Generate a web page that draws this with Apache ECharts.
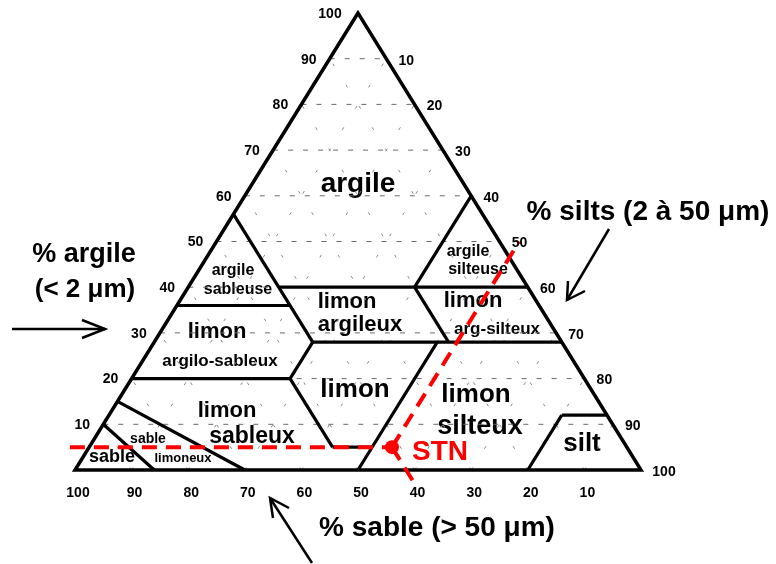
<!DOCTYPE html>
<html>
<head>
<meta charset="utf-8">
<script src="https://cdn.jsdelivr.net/npm/echarts@6/dist/echarts.min.js"></script>
<style>
html, body { margin: 0; padding: 0; background: #fff; }
#main { width: 776px; height: 564px; }
</style>
</head>
<body>
<div id="main"></div>
<script>
// ternary points are [clay, silt], sand = 100 - clay - silt
var ticks = [10, 20, 30, 40, 50, 60, 70, 80, 90, 100];
var gridLevels = [10, 20, 30, 40, 50, 60, 70, 80, 90];

var outline = [[100, 0], [0, 0], [0, 100]];

// class boundaries
var boundaries = [
    [[56, 0], [28, 28]],
    [[36, 0], [36, 20]],
    [[40, 16], [40, 60]],
    [[60, 40], [40, 40]],
    [[40, 40], [28, 52]],
    [[28, 28], [28, 72]],
    [[28, 28], [20, 28]],
    [[20, 0], [20, 28]],
    [[20, 28], [5, 43]],
    [[5, 43], [5, 50]],
    [[28, 50], [0, 50]],
    [[15, 0], [0, 30]],
    [[10, 0], [0, 14]],
    [[12, 80], [0, 80]],
    [[12, 80], [12, 88]]
];

// sample STN and its reading lines (they run a bit past the triangle)
var stn = [5, 53.5];
var stnLines = [
    [[5, -3.4], [5, 53.5]],
    [[5, 53.5], [50, 53.5]],
    [[5, 53.5], [-3, 61.5]]
];

var FONT = '"Liberation Sans", Arial, sans-serif';

function toXY(p) { return [p[1] + p[0] / 2, p[0]]; }

function segs(list) {
    return list.map(function (s) {
        var a = toXY(s[0]), b = toXY(s[1]);
        return [a[0], a[1], b[0], b[1]];
    });
}

var clayGrid = gridLevels.map(function (v) { return [[v, 0], [v, 100 - v]]; });
var diagGrid = [];
gridLevels.forEach(function (v) {
    diagGrid.push([[0, v], [100 - v, v]]);
    diagGrid.push([[0, 100 - v], [100 - v, 0]]);
});

function lineRender(stroke, width, dash) {
    return function (params, api) {
        var a = api.coord([api.value(0), api.value(1)]);
        var b = api.coord([api.value(2), api.value(3)]);
        return {
            type: 'line',
            shape: { x1: a[0], y1: a[1], x2: b[0], y2: b[1] },
            style: { stroke: stroke, lineWidth: width, lineDash: dash, lineCap: 'butt' }
        };
    };
}

function lineSeries(list, stroke, width, dash, z) {
    return {
        type: 'custom', silent: true, clip: false, z: z,
        renderItem: lineRender(stroke, width, dash),
        encode: { x: [0, 2], y: [1, 3] },
        data: segs(list)
    };
}

function tickSeries(pointOf, dxOf, dy) {
    return {
        type: 'custom', silent: true, clip: false, z: 5,
        renderItem: function (params, api) {
            var p = api.coord([api.value(0), api.value(1)]);
            var v = ticks[params.dataIndex];
            return {
                type: 'text', x: p[0] + dxOf(v), y: p[1] + dy,
                style: {
                    text: String(v), font: 'bold 14px ' + FONT, fill: '#000',
                    align: 'center', verticalAlign: 'middle',
                    textAlign: 'center', textVerticalAlign: 'middle'
                }
            };
        },
        encode: { x: 0, y: 1 },
        data: ticks.map(function (v) { return toXY(pointOf(v)); })
    };
}

function txt(x, y, s, size, color) {
    return {
        type: 'text', x: x, y: y, silent: true,
        style: {
            text: s, font: 'bold ' + size + 'px ' + FONT, fill: color || '#000',
            align: 'center', verticalAlign: 'middle',
            textAlign: 'center', textVerticalAlign: 'middle'
        }
    };
}

function arrow(x1, y1, x2, y2, h1, h2) {
    var st = { stroke: '#000', lineWidth: 2.5, fill: null };
    return [
        { type: 'line', silent: true, shape: { x1: x1, y1: y1, x2: x2, y2: y2 }, style: st },
        { type: 'polyline', silent: true, shape: { points: [h1, [x2, y2], h2] }, style: st }
    ];
}

var labels = [
    txt(358, 184, 'argile', 28),
    txt(233, 271, 'argile', 16), txt(238, 290, 'sableuse', 16),
    txt(468, 252, 'argile', 16), txt(478, 270, 'silteuse', 16),
    txt(347, 302, 'limon', 22), txt(360, 325, 'argileux', 22),
    txt(473, 301, 'limon', 22), txt(497, 329, 'arg-silteux', 17),
    txt(217, 332, 'limon', 22), txt(220, 361, 'argilo-sableux', 17),
    txt(355, 390, 'limon', 26),
    txt(476, 395, 'limon', 26), txt(480, 427, 'silteux', 27),
    txt(582, 444, 'silt', 26),
    txt(227, 411, 'limon', 22), txt(252, 437, 'sableux', 23),
    txt(148, 439, 'sable', 14),
    txt(183, 458, 'limoneux', 13),
    txt(112, 457, 'sable', 18),
    txt(84, 255, '% argile', 27),
    txt(85, 290, '(< 2 \u03bcm)', 26),
    txt(648, 212, '% silts (2 \u00e0 50 \u03bcm)', 28),
    txt(437, 528, '% sable (> 50 \u03bcm)', 28)
];

var arrows = []
    .concat(arrow(12, 329, 105, 329, [82, 320], [82, 338]))
    .concat(arrow(609, 229, 567, 300, [568, 281], [585, 291]))
    .concat(arrow(312, 563, 270, 498, [273, 518], [289, 508]));

var chart = echarts.init(document.getElementById('main'));
chart.setOption({
    animation: false,
    backgroundColor: '#fff',
    grid: { left: 75, right: 135, top: 13, bottom: 94 },
    xAxis: { type: 'value', min: 0, max: 100, show: false },
    yAxis: { type: 'value', min: 0, max: 100, show: false },
    graphic: labels.concat(arrows),
    series: [
        lineSeries(diagGrid, '#8a8a8a', 1, [3, 22], 1),
        lineSeries(clayGrid, '#6a6a6a', 1, [5, 10], 1),
        {
            type: 'custom', silent: true, clip: false, z: 3,
            renderItem: function (params, api) {
                var pts = outline.map(function (p) { return api.coord(toXY(p)); });
                return {
                    type: 'polygon', shape: { points: pts },
                    style: { fill: null, stroke: '#000', lineWidth: 3.5, lineJoin: 'miter' }
                };
            },
            encode: { x: 0, y: 1 },
            data: [[0, 0]]
        },
        lineSeries(boundaries, '#000', 3.2, null, 3),
        lineSeries(stnLines, '#ff0000', 4, [15, 9], 4),
        tickSeries(function (v) { return [v, 0]; }, function (v) { return v === 100 ? -28 : -21; }, 1),
        tickSeries(function (v) { return [100 - v, v]; }, function (v) { return v === 100 ? 23 : 20; }, 2),
        tickSeries(function (v) { return [0, 100 - v]; }, function (v) { return 3; }, 23),
        {
            type: 'scatter', silent: true, z: 6,
            symbol: 'circle', symbolSize: 14,
            itemStyle: { color: '#ff0000', opacity: 1 },
            label: {
                show: true, position: 'right', distance: 13, offset: [0, 5],
                formatter: 'STN', color: '#ff0000', opacity: 1,
                fontFamily: FONT, fontWeight: 'bold', fontSize: 28
            },
            data: [toXY(stn)]
        }
    ]
});
</script>
</body>
</html>
